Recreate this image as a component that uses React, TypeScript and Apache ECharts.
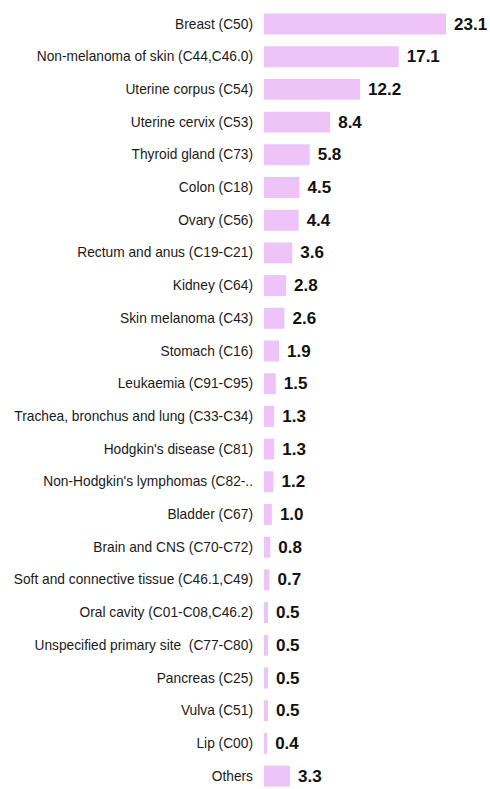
import React, { useEffect, useRef } from "react";
import * as echarts from "echarts";

const categories = [
  "Breast (C50)",
  "Non-melanoma of skin (C44,C46.0)",
  "Uterine corpus (C54)",
  "Uterine cervix (C53)",
  "Thyroid gland (C73)",
  "Colon (C18)",
  "Ovary (C56)",
  "Rectum and anus (C19-C21)",
  "Kidney (C64)",
  "Skin melanoma (C43)",
  "Stomach (C16)",
  "Leukaemia (C91-C95)",
  "Trachea, bronchus and lung (C33-C34)",
  "Hodgkin's disease (C81)",
  "Non-Hodgkin's lymphomas (C82-..",
  "Bladder (C67)",
  "Brain and CNS (C70-C72)",
  "Soft and connective tissue (C46.1,C49)",
  "Oral cavity (C01-C08,C46.2)",
  "Unspecified primary site  (C77-C80)",
  "Pancreas (C25)",
  "Vulva (C51)",
  "Lip (C00)",
  "Others",
];

const values = [
  23.1, 17.1, 12.2, 8.4, 5.8, 4.5, 4.4, 3.6, 2.8, 2.6, 1.9, 1.5, 1.3, 1.3, 1.2,
  1.0, 0.8, 0.7, 0.5, 0.5, 0.5, 0.5, 0.4, 3.3,
];

export default function App() {
  const ref = useRef<HTMLDivElement>(null);
  useEffect(() => {
    document.body.style.margin = "0";
    if (!ref.current) return;
    const chart = echarts.init(ref.current, undefined, { renderer: "svg" });
    chart.setOption({
      animation: false,
      backgroundColor: "#ffffff",
      grid: { left: 264, top: 7.65, width: 220.6, height: 784.8, containLabel: false },
      xAxis: {
        type: "value",
        min: 0,
        max: 28,
        show: false,
      },
      yAxis: {
        type: "category",
        inverse: true,
        data: categories,
        axisLine: { show: false },
        axisTick: { show: false },
        splitLine: { show: false },
        axisLabel: {
          margin: 11,
          color: "#1a1a1a",
          fontSize: 13.75,
          fontFamily: "'Liberation Sans Narrow', 'Arial Narrow', 'Liberation Sans', Arial, sans-serif",
        },
      },
      series: [
        {
          type: "bar",
          data: values,
          barWidth: "64%",
          itemStyle: { color: "#EDC3F8" },
          label: {
            show: true,
            position: "right",
            distance: 8,
            color: "#111111",
            fontWeight: "bold",
            fontSize: 17,
            fontFamily: "'Liberation Sans Narrow', 'Arial Narrow', 'Liberation Sans', Arial, sans-serif",
            formatter: (p: any) => Number(p.value).toFixed(1),
          },
        },
      ],
    });
    return () => chart.dispose();
  }, []);
  return <div ref={ref} style={{ width: 490, height: 800 }} />;
}
